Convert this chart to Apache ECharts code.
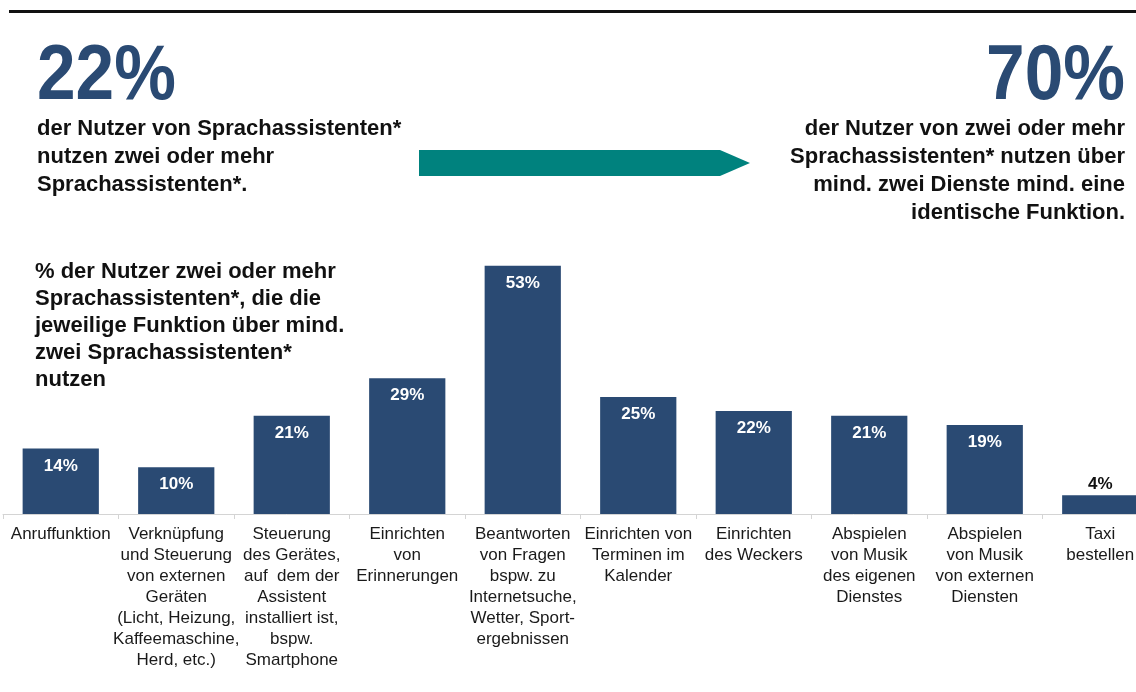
<!DOCTYPE html>
<html>
<head>
<meta charset="utf-8">
<script src="https://cdn.jsdelivr.net/npm/echarts@6/dist/echarts.min.js"></script>
<style>
  html, body { margin: 0; padding: 0; background: #fff; }
  #chart { width: 1136px; height: 692px; }
</style>
</head>
<body>
<div id="chart"></div>
<script>
const categories = [
  'Anruffunktion',
  'Verknüpfung\nund Steuerung\nvon externen\nGeräten\n(Licht, Heizung,\nKaffeemaschine,\nHerd, etc.)',
  'Steuerung\ndes Gerätes,\nauf  dem der\nAssistent\ninstalliert ist,\nbspw.\nSmartphone',
  'Einrichten\nvon\nErinnerungen',
  'Beantworten\nvon Fragen\nbspw. zu\nInternetsuche,\nWetter, Sport-\nergebnissen',
  'Einrichten von\nTerminen im\nKalender',
  'Einrichten\ndes Weckers',
  'Abspielen\nvon Musik\ndes eigenen\nDienstes',
  'Abspielen\nvon Musik\nvon externen\nDiensten',
  'Taxi\nbestellen'
];
const values = [14, 10, 21, 29, 53, 25, 22, 21, 19, 4];

const headlineLeft = '22%';
const textLeft = 'der Nutzer von Sprachassistenten*\nnutzen zwei oder mehr\nSprachassistenten*.';
const headlineRight = '70%';
const textRight = 'der Nutzer von zwei oder mehr\nSprachassistenten* nutzen über\nmind. zwei Dienste mind. eine\nidentische Funktion.';
const subtitle = '% der Nutzer zwei oder mehr\nSprachassistenten*, die die\njeweilige Funktion über mind.\nzwei Sprachassistenten*\nnutzen';

const FONT = '"Liberation Sans", Arial, sans-serif';
const BLUE = '#2a4a73';

const chart = echarts.init(document.getElementById('chart'));

const barData = values.map(v => {
  if (v < 8) {
    return { value: v, label: { position: 'top', distance: 2, color: '#111' } };
  }
  return v;
});

const option = {
  backgroundColor: '#fff',
  animation: false,
  grid: { left: 3, right: -22, top: 233, bottom: 178, outerBoundsMode: 'none' },
  xAxis: {
    type: 'category',
    data: categories,
    axisLine: { lineStyle: { color: '#d4d4d4', width: 1 } },
    axisTick: { show: true, length: 5, lineStyle: { color: '#d4d4d4' } },
    axisLabel: {
      interval: 0,
      margin: 10,
      fontFamily: FONT,
      fontSize: 17,
      lineHeight: 21,
      color: '#1a1a1a',
      align: 'center'
    }
  },
  yAxis: {
    type: 'value',
    min: 0,
    max: 60,
    show: false,
    splitLine: { show: false }
  },
  series: [{
    type: 'bar',
    data: barData,
    barCategoryGap: '34%',
    itemStyle: { color: BLUE },
    label: {
      show: true,
      position: 'insideTop',
      distance: 9,
      formatter: '{c}%',
      color: '#fff',
      fontFamily: FONT,
      fontWeight: 'bold',
      fontSize: 17
    }
  }],
  graphic: [
    { type: 'rect', shape: { x: 9, y: 10, width: 1140, height: 3 }, style: { fill: '#111' } },
    {
      type: 'text', x: 37, y: 38, scaleX: 0.89,
      style: { text: headlineLeft, font: 'bold 78px ' + FONT, fill: BLUE }
    },
    {
      type: 'text', x: 37, y: 115,
      style: { text: textLeft, font: 'bold 22px ' + FONT, lineHeight: 28, fill: '#111' }
    },
    {
      type: 'polygon',
      shape: { points: [[419, 150], [720, 150], [750, 163], [720, 176], [419, 176]] },
      style: { fill: '#00827e' }
    },
    {
      type: 'text', x: 1125, y: 38, scaleX: 0.89,
      style: { text: headlineRight, font: 'bold 78px ' + FONT, fill: BLUE, align: 'right' }
    },
    {
      type: 'text', x: 1125, y: 115,
      style: { text: textRight, font: 'bold 22px ' + FONT, lineHeight: 28, fill: '#111', align: 'right' }
    },
    {
      type: 'text', x: 35, y: 258,
      style: { text: subtitle, font: 'bold 22px ' + FONT, lineHeight: 27, fill: '#111' }
    }
  ]
};

chart.setOption(option);
</script>
</body>
</html>
